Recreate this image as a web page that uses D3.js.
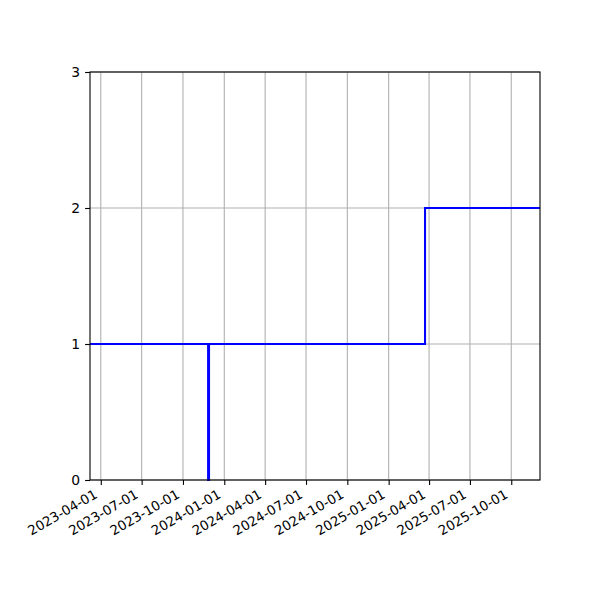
<!DOCTYPE html>
<html>
<head>
<meta charset="utf-8">
<script src="https://cdn.jsdelivr.net/npm/d3@7"></script>
<style>
  body { margin: 0; background: #fff; }
  text { font-family: "DejaVu Sans", sans-serif; }
</style>
</head>
<body>
<div id="chart"></div>
<script>
// step data (post-style): value holds from each date until the next one
let dates = ["2023-03-08", "2023-11-26", "2023-11-28", "2025-03-23", "2025-12-04"];
let values = [1, 0, 1, 2, 2];
let xDomain = ["2023-03-08", "2025-12-04"];
let yTicks = [0, 1, 2, 3];
let xTicks = ["2023-04-01", "2023-07-01", "2023-10-01", "2024-01-01", "2024-04-01",
              "2024-07-01", "2024-10-01", "2025-01-01", "2025-04-01", "2025-07-01", "2025-10-01"];

let parse = d3.utcParse("%Y-%m-%d");
let fmt = d3.utcFormat("%Y-%m-%d");

let width = 600, height = 600;
let margin = { left: 90, right: 60, top: 72, bottom: 120 };

let svg = d3.select("#chart").append("svg")
    .attr("width", width)
    .attr("height", height);

let x = d3.scaleUtc()
    .domain(xDomain.map(parse))
    .range([margin.left, width - margin.right]);

let y = d3.scaleLinear()
    .domain([0, 3])
    .range([height - margin.bottom, margin.top]);

// grid
let grid = svg.append("g").attr("stroke", "#b0b0b0").attr("stroke-width", 1.1);
grid.selectAll(".vx")
    .data(xTicks.map(parse))
    .enter().append("line")
    .attr("x1", d => x(d)).attr("x2", d => x(d))
    .attr("y1", margin.top).attr("y2", height - margin.bottom);
grid.selectAll(".hy")
    .data(yTicks)
    .enter().append("line")
    .attr("x1", margin.left).attr("x2", width - margin.right)
    .attr("y1", d => y(d)).attr("y2", d => y(d));

// the step line
let pts = dates.map((d, i) => ({ date: parse(d), value: values[i] }));
let line = d3.line()
    .x(d => x(d.date))
    .y(d => y(d.value))
    .curve(d3.curveStepAfter);

svg.append("path")
    .datum(pts)
    .attr("fill", "none")
    .attr("stroke", "blue")
    .attr("stroke-width", 2.08)
    .attr("d", line);

// axes
let xAxis = svg.append("g")
    .attr("transform", `translate(0,${height - margin.bottom})`)
    .call(d3.axisBottom(x).tickValues(xTicks.map(parse)).tickFormat(fmt).tickSizeOuter(0).tickSize(4.9).tickPadding(3));

xAxis.selectAll("text")
    .attr("font-size", 13.3)
    .attr("fill", "#000")
    .attr("text-anchor", "end")
    .attr("dy", 0)
    .attr("transform", "translate(-3,17) rotate(-30)")
    .attr("y", 0).attr("x", 0);

let yAxis = svg.append("g")
    .attr("transform", `translate(${margin.left},0)`)
    .call(d3.axisLeft(y).tickValues(yTicks).tickFormat(d3.format("d")).tickSizeOuter(0).tickSize(4.9).tickPadding(4.9));

yAxis.selectAll("text").attr("font-size", 13.9).attr("fill", "#000");

svg.selectAll(".domain").remove();
svg.selectAll(".tick line").attr("stroke", "#000").attr("stroke-width", 1.1);

// frame
svg.append("rect")
    .attr("x", margin.left).attr("y", margin.top)
    .attr("width", width - margin.left - margin.right)
    .attr("height", height - margin.top - margin.bottom)
    .attr("fill", "none")
    .attr("stroke", "#000")
    .attr("stroke-width", 1.1);
</script>
</body>
</html>
